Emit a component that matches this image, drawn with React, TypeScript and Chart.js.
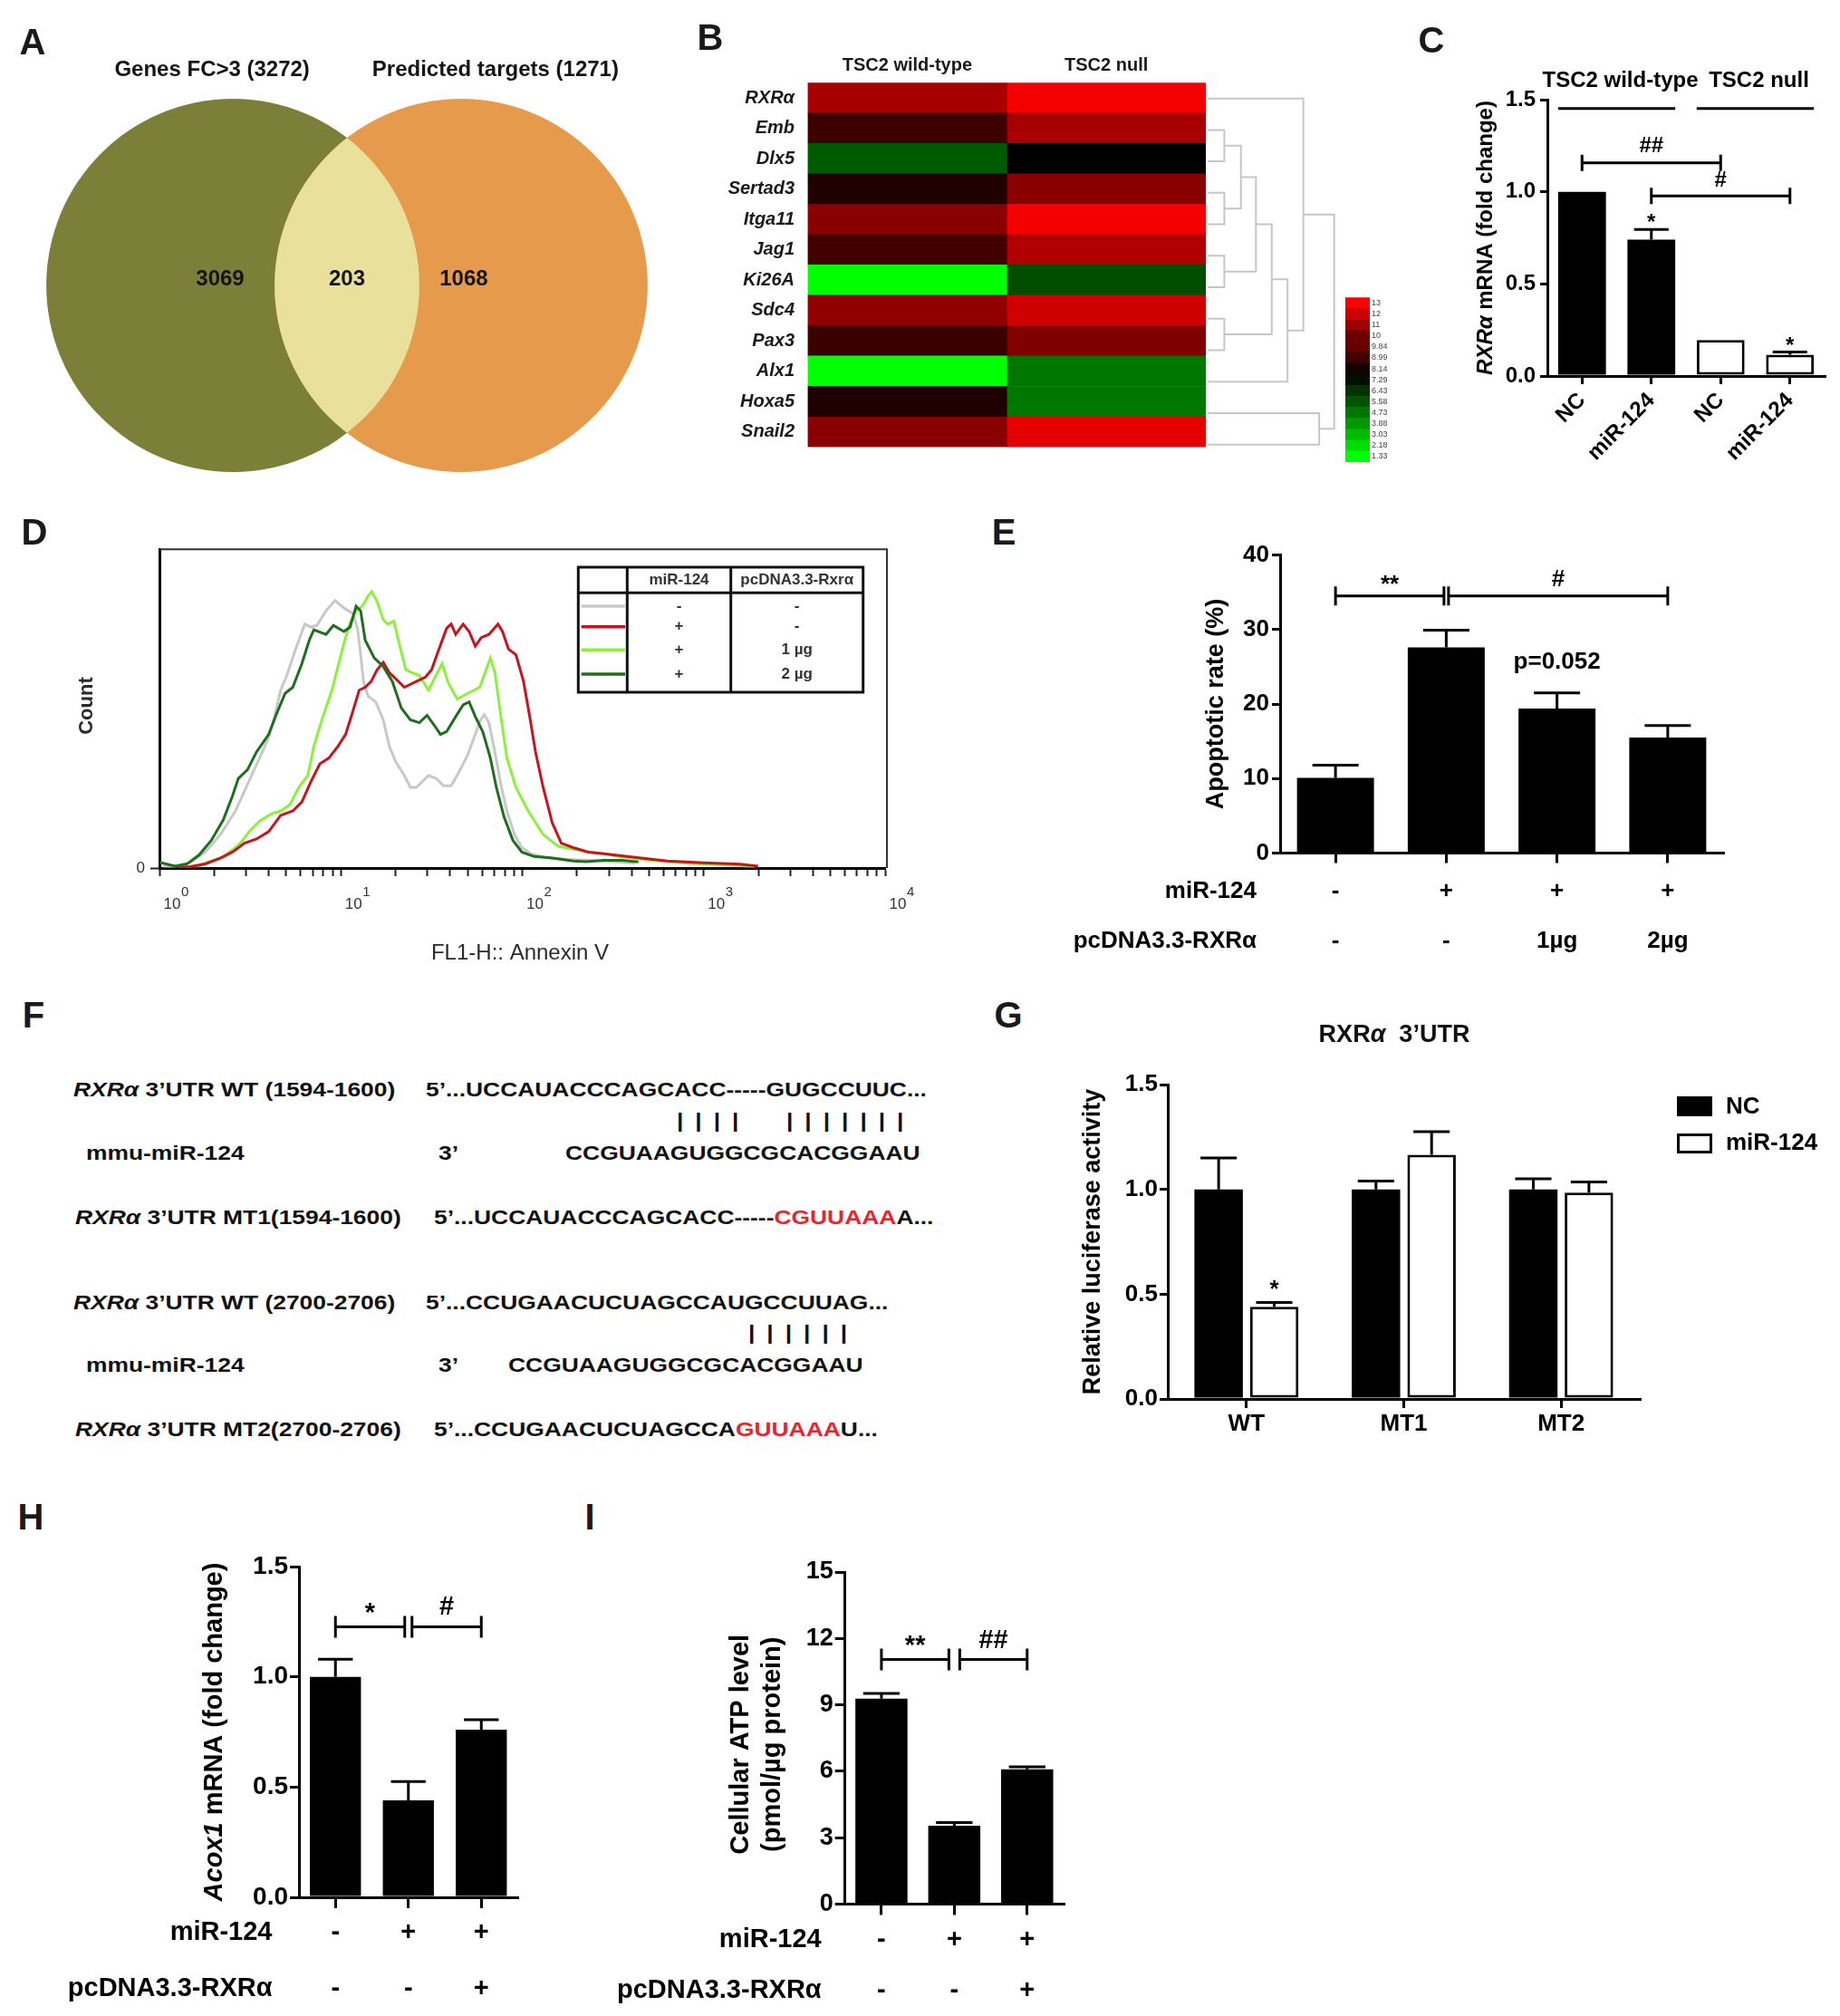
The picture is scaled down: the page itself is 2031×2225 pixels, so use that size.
import React, { useEffect, useRef } from 'react';
import { Chart, registerables } from 'chart.js';

Chart.register(...registerables);

const FONT = '"Liberation Sans", Arial, Helvetica, sans-serif';

/* ================= DATA ================= */
// A: Venn
const vennSetLabels = ['Genes FC>3 (3272)', 'Predicted targets (1271)'];
const vennCounts = [3069, 203, 1068];

// B: heatmap
const heatGenes = ['RXRα', 'Emb', 'Dlx5', 'Sertad3', 'Itga11', 'Jag1', 'Ki26A', 'Sdc4', 'Pax3', 'Alx1', 'Hoxa5', 'Snail2'];
const heatConditions = ['TSC2 wild-type', 'TSC2 null'];
const heatWT = [11.2, 8.95, 5.45, 8.36, 10.57, 9.07, 1.33, 10.7, 8.9, 1.33, 8.32, 10.57];
const heatNull = [12.8, 11.2, 7.7, 10.57, 12.8, 11.36, 5.78, 12.0, 10.36, 4.7, 4.7, 12.44];
const heatScaleLabels = ['13', '12', '11', '10', '9.84', '8.99', '8.14', '7.29', '6.43', '5.58', '4.73', '3.88', '3.03', '2.18', '1.33'];
// linkage: [childA, childB, height]; new cluster ids start at 12
const dendroMerges = [
  [1, 2, 1.05], [3, 4, 1.05], [12, 13, 2.1], [5, 6, 1.05], [14, 15, 3.05], [7, 8, 1.05],
  [16, 17, 4.05], [18, 9, 5.05], [0, 19, 6.05], [10, 11, 7.05], [20, 21, 8.0],
];

// C
const cLabels = ['NC', 'miR-124', 'NC', 'miR-124'];
const cGroups = ['TSC2 wild-type', 'TSC2 null'];
const cValues = [1.0, 0.74, 0.195, 0.115];
const cErrors = [0, 0.055, 0, 0.015];
const cBrackets = [
  { a: 0, b: 2, y: 1.157, label: '##', ly: 1.245 },
  { a: 1, b: 3, y: 0.978, label: '#', ly: 1.059 },
];
const cNotes = [{ ds: 0, i: 1, v: 0.856, t: '*' }, { ds: 0, i: 3, v: 0.187, t: '*' }];

// D: flow histogram (x as log10 of FL1-H, y as count % of max)
const dGrayLog = [0.02, 0.086, 0.17, 0.253, 0.336, 0.419, 0.485, 0.552, 0.602, 0.635, 0.668, 0.702, 0.751, 0.801, 0.835, 0.868, 0.918, 0.968, 1.017, 1.067, 1.092, 1.109, 1.125, 1.15, 1.192, 1.234, 1.267, 1.3, 1.35, 1.383, 1.416, 1.483, 1.525, 1.566, 1.608, 1.649, 1.699, 1.741, 1.766, 1.791, 1.816, 1.849, 1.882, 1.915, 1.957, 1.998, 2.048, 2.131, 2.248, 2.35, 2.5, 2.62];
const dGrayCount = [0.6, 0.6, 1.8, 5.0, 10.5, 17.9, 26.2, 34.5, 41, 47.5, 55.8, 60.4, 68.7, 76.5, 75.6, 76.1, 80.7, 83.9, 81.6, 79.8, 75.2, 66.9, 58.5, 53.9, 52.1, 46.5, 38.2, 33.6, 29.0, 25.3, 25.3, 29.0, 28.1, 25.8, 25.8, 29.9, 35.5, 41.9, 46.1, 48.1, 45.6, 36.4, 26.2, 17.9, 10.5, 6.4, 4.5, 3.3, 2.7, 2.5, 2.0, 1.5];
const dRedLog = [0.1, 0.17, 0.253, 0.336, 0.402, 0.469, 0.535, 0.602, 0.668, 0.735, 0.785, 0.835, 0.884, 0.934, 0.984, 1.026, 1.067, 1.101, 1.134, 1.167, 1.2, 1.234, 1.267, 1.3, 1.35, 1.416, 1.466, 1.5, 1.541, 1.583, 1.608, 1.633, 1.674, 1.707, 1.741, 1.774, 1.816, 1.866, 1.891, 1.924, 1.965, 2.007, 2.041, 2.073, 2.115, 2.165, 2.215, 2.281, 2.364, 2.45, 2.6, 2.8, 3.0, 3.2, 3.3];
const dRedCount = [0.3, 0.4, 1.3, 3.1, 5.0, 7.8, 9.1, 11.4, 16.5, 17.9, 20.7, 27.1, 32.7, 34.5, 38.2, 41.9, 49.3, 55.8, 56.7, 58.5, 62.2, 64.5, 61.3, 59.5, 56.7, 58.5, 59.9, 62.2, 68.7, 75.2, 76.5, 73.3, 76.5, 74.2, 69.6, 72.3, 73.3, 76.5, 74.2, 68.7, 66.9, 58.5, 47.5, 36.4, 25.3, 14.2, 7.8, 6.4, 5.0, 4.5, 3.5, 2.2, 1.6, 1.2, 0.6];
const dLightLog = [0.2, 0.35, 0.42, 0.452, 0.494, 0.552, 0.618, 0.668, 0.718, 0.768, 0.818, 0.851, 0.901, 0.951, 0.984, 1.017, 1.051, 1.084, 1.117, 1.15, 1.17, 1.2, 1.234, 1.258, 1.292, 1.325, 1.358, 1.392, 1.433, 1.483, 1.516, 1.558, 1.591, 1.641, 1.699, 1.766, 1.824, 1.849, 1.882, 1.915, 1.965, 2.032, 2.115, 2.198, 2.281, 2.381, 2.45, 2.55, 2.7, 2.9, 3.1, 3.28];
const dLightCount = [0.5, 3.5, 6.5, 8.2, 11.4, 14.7, 17.0, 17.9, 19.8, 25.3, 29.0, 38.2, 47.5, 55.8, 63.2, 70.5, 77.0, 80.7, 82.1, 85.3, 86.7, 83.5, 77.9, 76.5, 77.4, 69.6, 62.2, 61.3, 60.4, 55.8, 59.5, 64.1, 58.2, 53.0, 54.8, 56.7, 65.9, 61.3, 47.5, 34.5, 25.3, 17.9, 10.5, 6.8, 5.9, 5.0, 4.5, 3.5, 2.5, 1.5, 1.0, 0.5];
const dDarkLog = [0, 0.086, 0.153, 0.219, 0.286, 0.352, 0.402, 0.435, 0.485, 0.535, 0.602, 0.652, 0.693, 0.735, 0.785, 0.826, 0.851, 0.918, 0.959, 1.017, 1.051, 1.084, 1.109, 1.134, 1.184, 1.234, 1.284, 1.333, 1.383, 1.433, 1.475, 1.516, 1.549, 1.583, 1.633, 1.674, 1.707, 1.741, 1.782, 1.824, 1.857, 1.899, 1.948, 1.998, 2.065, 2.165, 2.281, 2.35, 2.45, 2.55, 2.64];
const dDarkCount = [1.8, 0.6, 1.3, 4.1, 8.7, 15.1, 22.5, 28.1, 30.8, 36.4, 41.9, 49.3, 54.8, 56.7, 64.1, 71.5, 74.7, 73.3, 76.1, 74.2, 75.6, 82.1, 80.7, 71.5, 65.9, 63.2, 58.5, 50.2, 46.5, 45.6, 47.9, 44.7, 41.9, 42.8, 47.5, 51.2, 52.1, 47.5, 42.8, 34.5, 25.3, 16.1, 8.7, 5.0, 3.6, 3.1, 2.2, 2.0, 2.4, 2.4, 1.9];
const dLegendMir = ['-', '+', '+', '+'];
const dLegendPc = ['-', '-', '1 µg', '2 µg'];
const dTickExp = [0, 1, 2, 3, 4];

// E
const eMir = ['-', '+', '+', '+'];
const ePc = ['-', '-', '1µg', '2µg'];
const eValues = [10.1, 27.6, 19.4, 15.5];
const eErrors = [1.7, 2.3, 2.1, 1.6];
const eBrackets = [
  { a: 0, b: 1, y: 34.5, label: '**', ly: 36.7 },
  { a: 1, b: 3, y: 34.5, label: '#', ly: 36.7 },
];
const eNotes = [{ ds: 0, i: 2, v: 25.6, t: 'p=0.052' }];

// G
const gCats = ['WT', 'MT1', 'MT2'];
const gSeries = ['NC', 'miR-124'];
const gNC = [1.0, 1.0, 1.0];
const gNCErr = [0.15, 0.04, 0.05];
const gMir = [0.44, 1.165, 0.985];
const gMirErr = [0.02, 0.11, 0.05];
const gNotes = [{ ds: 1, i: 0, v: 0.545, t: '*' }];

// H
const hMir = ['-', '+', '+'];
const hPc = ['-', '-', '+'];
const hValues = [1.0, 0.44, 0.76];
const hErrors = [0.08, 0.085, 0.045];
const hBrackets = [
  { a: 0, b: 1, y: 1.227, label: '*', ly: 1.314 },
  { a: 1, b: 2, y: 1.227, label: '#', ly: 1.314 },
];

// I
const iMir = ['-', '+', '+'];
const iPc = ['-', '-', '+'];
const iValues = [9.28, 3.54, 6.09];
const iErrors = [0.24, 0.14, 0.11];
const iBrackets = [
  { a: 0, b: 1, y: 11.05, label: '**', ly: 11.9 },
  { a: 1, b: 2, y: 11.05, label: '##', ly: 11.9 },
];

/* ================= HELPERS ================= */
function heatColor(v: number) {
  const mid = 7.7;
  if (v >= mid) {
    const t = Math.min(1, (v - mid) / (13 - mid));
    return `rgb(${Math.round(255 * t)},0,0)`;
  }
  const t = Math.min(1, (mid - v) / (mid - 1.33));
  return `rgb(0,${Math.round(255 * t)},0)`;
}

function drawRich(ctx: any, parts: any[], cx: number, cy: number, size: number, rot: number, color = '#000', weight = 'bold') {
  ctx.save();
  ctx.translate(cx, cy);
  ctx.rotate(rot);
  const fonts = parts.map((p: any) => `${p[1] ? 'italic ' : ''}${weight} ${size}px ${FONT}`);
  let total = 0;
  const ws = parts.map((p: any, i: number) => {
    ctx.font = fonts[i];
    const w = ctx.measureText(p[0]).width;
    total += w;
    return w;
  });
  let x = -total / 2;
  ctx.textBaseline = 'middle';
  ctx.textAlign = 'left';
  ctx.fillStyle = color;
  parts.forEach((p: any, i: number) => {
    ctx.font = fonts[i];
    ctx.fillText(p[0], x, 0);
    x += ws[i];
  });
  ctx.restore();
}

function starShift(t: string, size: number) {
  return /^\*+$/.test(t) ? size * 0.22 : 0;
}

function frameOf(box: any, area: any) {
  return {
    padding: { left: 0, top: area.t - box.y, right: box.x + box.w - area.r, bottom: 0 },
    yW: area.l - box.x,
    xH: box.y + box.h - area.b,
  };
}

function errorBarPlugin(errs: number[][], capFrac: number, lw = 3) {
  return {
    id: 'errbars',
    afterDatasetsDraw(chart: any) {
      const ctx = chart.ctx;
      const y = chart.scales.y;
      chart.data.datasets.forEach((ds: any, di: number) => {
        const meta = chart.getDatasetMeta(di);
        meta.data.forEach((bar: any, i: number) => {
          const e = errs[di] ? errs[di][i] : 0;
          if (!e) return;
          const v = ds.data[i];
          const yTop = y.getPixelForValue(v + e);
          const yBar = y.getPixelForValue(v);
          const w = bar.width * capFrac;
          ctx.save();
          ctx.strokeStyle = '#000';
          ctx.lineWidth = lw;
          ctx.beginPath();
          ctx.moveTo(bar.x, yBar);
          ctx.lineTo(bar.x, yTop);
          ctx.moveTo(bar.x - w / 2, yTop);
          ctx.lineTo(bar.x + w / 2, yTop);
          ctx.stroke();
          ctx.restore();
        });
      });
    },
  };
}

function bracketPlugin(list: any[], cap: number, size: number, gap: number) {
  return {
    id: 'brackets',
    afterDraw(chart: any) {
      const { ctx } = chart;
      const x = chart.scales.x;
      const y = chart.scales.y;
      ctx.save();
      ctx.strokeStyle = '#000';
      ctx.fillStyle = '#000';
      ctx.lineWidth = 3;
      ctx.font = `bold ${size}px ${FONT}`;
      ctx.textAlign = 'center';
      ctx.textBaseline = 'middle';
      list.forEach((b: any) => {
        const startShared = list.some((o: any) => o !== b && o.b === b.a);
        const endShared = list.some((o: any) => o !== b && o.a === b.b);
        const xa = x.getPixelForValue(b.a) + (startShared ? gap / 2 : 0);
        const xb = x.getPixelForValue(b.b) - (endShared ? gap / 2 : 0);
        const yy = y.getPixelForValue(b.y);
        ctx.beginPath();
        ctx.moveTo(xa, yy);
        ctx.lineTo(xb, yy);
        ctx.moveTo(xa, yy - cap);
        ctx.lineTo(xa, yy + cap);
        ctx.moveTo(xb, yy - cap);
        ctx.lineTo(xb, yy + cap);
        ctx.stroke();
        ctx.fillText(b.label, (xa + xb) / 2, y.getPixelForValue(b.ly) + starShift(b.label, size));
      });
      ctx.restore();
    },
  };
}

function notesPlugin(notes: any[], size: number) {
  return {
    id: 'notes',
    afterDraw(chart: any) {
      const { ctx } = chart;
      const y = chart.scales.y;
      ctx.save();
      ctx.fillStyle = '#000';
      ctx.font = `bold ${size}px ${FONT}`;
      ctx.textAlign = 'center';
      ctx.textBaseline = 'middle';
      notes.forEach((n: any) => {
        const el = chart.getDatasetMeta(n.ds).data[n.i];
        ctx.fillText(n.t, el.x, y.getPixelForValue(n.v) + starShift(n.t, size));
      });
      ctx.restore();
    },
  };
}

function rowsPlugin(rows: any[], nameRight: number, size: number) {
  return {
    id: 'rows',
    afterDraw(chart: any) {
      const { ctx } = chart;
      const x = chart.scales.x;
      const b = chart.chartArea.bottom;
      ctx.save();
      ctx.fillStyle = '#000';
      ctx.font = `bold ${size}px ${FONT}`;
      ctx.textBaseline = 'middle';
      rows.forEach((r: any) => {
        ctx.textAlign = 'right';
        ctx.fillText(r.name, nameRight, b + r.dy);
        ctx.textAlign = 'center';
        r.vals.forEach((v: string, i: number) => ctx.fillText(v, x.getPixelForValue(i), b + r.dy));
      });
      ctx.restore();
    },
  };
}

function yTitlePlugin(lines: any[], xs: number[], size: number, dyc = 0) {
  return {
    id: 'ytitle',
    afterDraw(chart: any) {
      const ca = chart.chartArea;
      const cy = (ca.top + ca.bottom) / 2 + dyc;
      lines.forEach((parts: any, k: number) => drawRich(chart.ctx, parts, xs[k], cy, size, -Math.PI / 2));
    },
  };
}

function barConfig(s: any) {
  const f = frameOf(s.box, s.area);
  const tickFont = { family: FONT, size: s.font, weight: 'bold' };
  return {
    type: 'bar',
    data: {
      labels: s.labels,
      datasets: s.series.map((se: any) => ({
        data: se.values,
        backgroundColor: se.fill,
        borderColor: '#000',
        borderWidth: se.bw ?? 0,
        borderSkipped: false,
        barPercentage: s.barPct,
        categoryPercentage: s.catPct,
      })),
    },
    options: {
      responsive: false,
      animation: false,
      events: [],
      layout: { padding: f.padding },
      plugins: { legend: { display: false }, tooltip: { enabled: false } },
      scales: {
        x: {
          offset: true,
          grid: { display: true, drawOnChartArea: false, offset: false, drawTicks: true, tickLength: s.tickLenX, tickWidth: 3, tickColor: '#000', color: '#000', lineWidth: 3 },
          border: { display: true, color: '#000', width: 3 },
          ticks: { display: s.showX, color: '#000', font: tickFont, padding: s.padX, autoSkip: false, maxRotation: s.rot || 0, minRotation: s.rot || 0 },
          afterFit: (sc: any) => { sc.height = f.xH; },
        },
        y: {
          min: 0,
          max: s.yMax,
          grid: { display: true, drawOnChartArea: false, drawTicks: true, tickLength: s.tickLenY, tickWidth: 3, tickColor: '#000', color: '#000', lineWidth: 3 },
          border: { display: true, color: '#000', width: 3 },
          ticks: { stepSize: s.yStep, color: '#000', font: tickFont, padding: s.padY, callback: (v: any) => Number(v).toFixed(s.yDec) },
          afterFit: (sc: any) => { sc.width = f.yW; },
        },
      },
    },
    plugins: [errorBarPlugin(s.series.map((se: any) => se.errors), s.capFrac), ...s.extra],
  };
}

/* ================= LAYOUT (page px) ================= */
const A_BOX = { x: 0, y: 0, w: 760, h: 640 };
const A_AREA = { l: 33, t: 6, r: 733, b: 624 };
const HEAT_BOX = { x: 740, y: 40, w: 595, h: 480 };
const HEAT_AREA = { l: 891.5, t: 91.3, r: 1331, b: 508 };
const DEN_BOX = { x: 1331, y: 80, w: 160, h: 440 };
const DEN_AREA = { l: 1331, t: 91.3, r: 1480, b: 508 };
const CB_BOX = { x: 1480, y: 320, w: 70, h: 200 };
const CB_AREA = { l: 1485, t: 328.3, r: 1512, b: 510 };
const C_BOX = { x: 1600, y: 60, w: 431, h: 470 };
const C_AREA = { l: 1708, t: 110, r: 2014, b: 415 };
const D_BOX = { x: 0, y: 590, w: 1010, h: 490 };
const D_AREA = { l: 176, t: 598, r: 977, b: 958 };
const E_BOX = { x: 1140, y: 560, w: 800, h: 510 };
const E_AREA = { l: 1413, t: 612.5, r: 1902, b: 941.5 };
const G_BOX = { x: 1160, y: 1110, w: 871, h: 500 };
const G_AREA = { l: 1289, t: 1197, r: 1810, b: 1544 };
const H_BOX = { x: 0, y: 1705, w: 620, h: 520 };
const H_AREA = { l: 330, t: 1729, r: 571.5, b: 2094 };
const I_BOX = { x: 630, y: 1705, w: 590, h: 520 };
const I_AREA = { l: 932.7, t: 1735, r: 1174, b: 2101.5 };

function pad(box: any, area: any) {
  return { left: area.l - box.x, top: area.t - box.y, right: box.x + box.w - area.r, bottom: box.y + box.h - area.b };
}

/* ================= PANEL CONFIGS ================= */
const VENN_D = 0.612;
const makeA = () => ({
  type: 'scatter',
  data: { datasets: [] },
  options: {
    responsive: false,
    animation: false,
    events: [],
    layout: { padding: pad(A_BOX, A_AREA) },
    plugins: { legend: { display: false }, tooltip: { enabled: false } },
    scales: {
      x: { type: 'linear', min: -1.7, max: 1.7, display: false },
      y: { type: 'linear', min: -1.5, max: 1.5, display: false },
    },
  },
  plugins: [{
    id: 'venn',
    afterDraw(chart: any) {
      const { ctx } = chart;
      const x = chart.scales.x;
      const y = chart.scales.y;
      const r = x.getPixelForValue(1) - x.getPixelForValue(0);
      const cy = y.getPixelForValue(0);
      const c1 = x.getPixelForValue(-VENN_D);
      const c2 = x.getPixelForValue(VENN_D);
      ctx.save();
      ctx.fillStyle = '#7b7f37';
      ctx.beginPath(); ctx.arc(c1, cy, r, 0, Math.PI * 2); ctx.fill();
      ctx.fillStyle = '#e59b4b';
      ctx.beginPath(); ctx.arc(c2, cy, r, 0, Math.PI * 2); ctx.fill();
      ctx.save();
      ctx.beginPath(); ctx.arc(c1, cy, r, 0, Math.PI * 2); ctx.clip();
      ctx.fillStyle = '#e8e09b';
      ctx.beginPath(); ctx.arc(c2, cy, r, 0, Math.PI * 2); ctx.fill();
      ctx.restore();
      ctx.fillStyle = '#151515';
      ctx.font = `bold 24px ${FONT}`;
      ctx.textAlign = 'center';
      ctx.textBaseline = 'middle';
      const ty = y.getPixelForValue(1.155);
      ctx.fillText(vennSetLabels[0], x.getPixelForValue(-0.723), ty);
      ctx.fillText(vennSetLabels[1], x.getPixelForValue(0.796), ty);
      const ny = y.getPixelForValue(0.03);
      const nx = [-0.68, 0, 0.626];
      vennCounts.forEach((c, i) => ctx.fillText(String(c), x.getPixelForValue(nx[i]), ny));
      ctx.restore();
    },
  }],
});

const makeHeat = () => {
  const f = frameOf(HEAT_BOX, HEAT_AREA);
  return {
    type: 'bar',
    data: {
      labels: heatGenes,
      datasets: [
        { data: heatGenes.map(() => 1), backgroundColor: heatWT.map(heatColor), borderWidth: 0, barPercentage: 1, categoryPercentage: 1 },
        { data: heatGenes.map(() => 1), backgroundColor: heatNull.map(heatColor), borderWidth: 0, barPercentage: 1, categoryPercentage: 1 },
      ],
    },
    options: {
      indexAxis: 'y',
      responsive: false,
      animation: false,
      events: [],
      layout: { padding: { left: 0, top: 0, right: HEAT_BOX.x + HEAT_BOX.w - HEAT_AREA.r, bottom: HEAT_BOX.y + HEAT_BOX.h - HEAT_AREA.b } },
      plugins: { legend: { display: false }, tooltip: { enabled: false } },
      scales: {
        x: {
          type: 'linear', position: 'top', stacked: true, min: 0, max: 2,
          grid: { display: false, drawTicks: false }, border: { display: false },
          afterBuildTicks: (sc: any) => { sc.ticks = [{ value: 0.5 }, { value: 1.5 }]; },
          ticks: { callback: (v: any) => heatConditions[Math.floor(v)], font: { family: FONT, size: 20, weight: 'bold' }, color: '#1a1a1a', padding: 6.6, maxRotation: 0, autoSkip: false },
          afterFit: (sc: any) => { sc.height = HEAT_AREA.t - HEAT_BOX.y; },
        },
        y: {
          stacked: true,
          grid: { display: false, drawTicks: false }, border: { display: false },
          ticks: { font: { family: FONT, size: 20, weight: 'bold', style: 'italic' }, color: '#1a1a1a', padding: 14.5, autoSkip: false },
          afterFit: (sc: any) => { sc.width = f.yW; },
        },
      },
    },
  };
};

function dendroSegments() {
  const pos: number[] = heatGenes.map((_, i) => i);
  const hgt: number[] = heatGenes.map(() => 0);
  const segs: any[] = [];
  dendroMerges.forEach(([a, b, h]) => {
    segs.push([{ x: hgt[a], y: pos[a] }, { x: h, y: pos[a] }, { x: h, y: pos[b] }, { x: hgt[b], y: pos[b] }]);
    pos.push((pos[a] + pos[b]) / 2);
    hgt.push(h);
  });
  return segs;
}

const makeDendro = () => ({
  type: 'scatter',
  data: {
    datasets: dendroSegments().map((seg) => ({ data: seg, showLine: true, borderColor: '#c6c6c6', borderWidth: 2, pointRadius: 0, tension: 0 })),
  },
  options: {
    responsive: false, animation: false, events: [],
    layout: { padding: pad(DEN_BOX, DEN_AREA) },
    plugins: { legend: { display: false }, tooltip: { enabled: false } },
    scales: {
      x: { type: 'linear', min: -0.12, max: 8.42, display: false },
      y: { type: 'linear', min: -0.5, max: 11.5, reverse: true, display: false },
    },
  },
});

const makeColorbar = () => ({
  type: 'bar',
  data: {
    labels: [''],
    datasets: heatScaleLabels.slice().reverse().map((l) => ({ data: [1], backgroundColor: heatColor(parseFloat(l)), borderWidth: 0, barPercentage: 1, categoryPercentage: 1 })),
  },
  options: {
    responsive: false, animation: false, events: [],
    layout: { padding: { left: CB_AREA.l - CB_BOX.x, top: CB_AREA.t - CB_BOX.y, right: 0, bottom: CB_BOX.y + CB_BOX.h - CB_AREA.b } },
    plugins: { legend: { display: false }, tooltip: { enabled: false } },
    scales: {
      x: { stacked: true, display: false },
      y: {
        stacked: true, position: 'right', min: 0, max: 15,
        grid: { display: false, drawTicks: false }, border: { display: false },
        afterBuildTicks: (sc: any) => { sc.ticks = heatScaleLabels.map((_, i) => ({ value: 14.5 - i })); },
        ticks: { callback: (_v: any, i: number) => heatScaleLabels[i], font: { family: FONT, size: 9 }, color: '#444', padding: 2, autoSkip: false },
        afterFit: (sc: any) => { sc.width = CB_BOX.x + CB_BOX.w - CB_AREA.r; },
      },
    },
  },
});

const makeC = () => barConfig({
  box: C_BOX, area: C_AREA, labels: cLabels,
  series: [{ values: cValues, errors: cErrors, fill: ['#000', '#000', '#fff', '#fff'], bw: [0, 0, 3, 3] }],
  yMax: 1.5, yStep: 0.5, yDec: 1, font: 24, tickLenX: 9, tickLenY: 8, padX: 4, padY: 5,
  catPct: 1, barPct: 0.69, showX: true, rot: 45, capFrac: 0.72,
  extra: [
    bracketPlugin(cBrackets, 9, 24, 0),
    notesPlugin(cNotes, 24),
    {
      id: 'groups',
      afterDraw(chart: any) {
        const { ctx } = chart;
        const y = chart.scales.y;
        const meta = chart.getDatasetMeta(0);
        ctx.save();
        ctx.strokeStyle = '#000'; ctx.fillStyle = '#000'; ctx.lineWidth = 3;
        ctx.font = `bold 24px ${FONT}`; ctx.textAlign = 'center'; ctx.textBaseline = 'middle';
        cGroups.forEach((g, k) => {
          const a = meta.data[k * 2];
          const b = meta.data[k * 2 + 1];
          const xa = a.x - a.width / 2;
          const xb = b.x + b.width / 2;
          const yy = y.getPixelForValue(1.452);
          ctx.beginPath(); ctx.moveTo(xa, yy); ctx.lineTo(xb, yy); ctx.stroke();
          ctx.fillText(g, (xa + xb) / 2 + 4, y.getPixelForValue(1.6));
        });
        ctx.restore();
      },
    },
    yTitlePlugin([[['RXRα', true], [' mRNA (fold change)', false]]], [1640 - C_BOX.x], 24),
  ],
});

const makeD = () => {
  const f = frameOf(D_BOX, D_AREA);
  const mk = (lx: number[], ys: number[], color: string) => ({
    data: lx.map((e, i) => ({ x: Math.pow(10, e), y: ys[i] })),
    borderColor: color, borderWidth: 3, pointRadius: 0, fill: false, tension: 0,
  });
  return {
    type: 'line',
    data: {
      datasets: [
        mk(dDarkLog, dDarkCount, '#1e6e1e'),
        mk(dRedLog, dRedCount, '#c8141e'),
        mk(dLightLog, dLightCount, '#8cf03c'),
        mk(dGrayLog, dGrayCount, '#c8c8c8'),
      ],
    },
    options: {
      responsive: false, animation: false, events: [],
      layout: { padding: f.padding },
      plugins: { legend: { display: false }, tooltip: { enabled: false } },
      scales: {
        x: {
          type: 'logarithmic', min: 1, max: 10000,
          afterBuildTicks: (sc: any) => {
            const t: any[] = [];
            for (let p = 0; p < 4; p++) for (let k = 1; k < 10; k++) t.push({ value: k * Math.pow(10, p) });
            t.push({ value: 10000 });
            sc.ticks = t;
          },
          grid: { display: true, drawOnChartArea: false, drawTicks: true, tickLength: 9, tickWidth: 2, tickColor: '#222', color: '#222' },
          border: { display: true, color: '#000', width: 3 },
          ticks: { display: false, autoSkip: false },
          afterFit: (sc: any) => { sc.height = f.xH; },
        },
        y: {
          min: 0, max: 100,
          afterBuildTicks: (sc: any) => { sc.ticks = [{ value: 0 }]; },
          grid: { display: true, drawOnChartArea: false, drawTicks: true, tickLength: 10, tickWidth: 2, tickColor: '#222', color: '#222' },
          border: { display: true, color: '#000', width: 3 },
          ticks: { callback: () => '0', font: { family: FONT, size: 17 }, color: '#333', padding: 6 },
          afterFit: (sc: any) => { sc.width = f.yW; },
        },
      },
    },
    plugins: [{
      id: 'dextra',
      afterDraw(chart: any) {
        const { ctx } = chart;
        const ca = chart.chartArea;
        const x = chart.scales.x;
        const oy = D_BOX.y;
        ctx.save();
        // frame top/right
        ctx.strokeStyle = '#333'; ctx.lineWidth = 2;
        ctx.beginPath(); ctx.moveTo(ca.left, ca.top); ctx.lineTo(ca.right + 2, ca.top); ctx.lineTo(ca.right + 2, ca.bottom); ctx.stroke();
        // tick labels 10^n
        ctx.fillStyle = '#333'; ctx.textAlign = 'left'; ctx.textBaseline = 'alphabetic';
        dTickExp.forEach((p) => {
          const px = x.getPixelForValue(Math.pow(10, p));
          ctx.font = `17px ${FONT}`; ctx.fillText('10', px + 4.5, 1003 - oy);
          ctx.font = `15px ${FONT}`; ctx.fillText(String(p), px + 24, 989 - oy);
        });
        // axis titles
        ctx.textAlign = 'center'; ctx.textBaseline = 'middle';
        ctx.font = `24px ${FONT}`; ctx.fillStyle = '#2a2a2a';
        ctx.fillText('FL1-H:: Annexin V', 574, 1052.7 - oy);
        drawRich(ctx, [['Count', false]], 95.7, 779 - oy, 22, -Math.PI / 2, '#2a2a2a');
        // legend table
        const L = 638.3, R = 952.7, T = 626 - oy, B = 764 - oy, c1 = 692.3, c2 = 806.7, hd = 654.3 - oy;
        ctx.strokeStyle = '#111'; ctx.lineWidth = 3;
        ctx.strokeRect(L, T, R - L, B - T);
        ctx.beginPath();
        ctx.moveTo(c1, T); ctx.lineTo(c1, B);
        ctx.moveTo(c2, T); ctx.lineTo(c2, B);
        ctx.moveTo(L, hd); ctx.lineTo(R, hd);
        ctx.stroke();
        ctx.fillStyle = '#333'; ctx.font = `bold 17px ${FONT}`;
        ctx.fillText('miR-124', (c1 + c2) / 2, 640 - oy);
        ctx.fillText('pcDNA3.3-Rxrα', (c2 + R) / 2, 640 - oy);
        const rowY = [669, 691.7, 717.3, 744];
        const cols = ['#c8c8c8', '#c8141e', '#8cf03c', '#1e6e1e'];
        rowY.forEach((ry, k) => {
          ctx.strokeStyle = cols[k]; ctx.lineWidth = 3.5;
          ctx.beginPath(); ctx.moveTo(641.7, ry - oy); ctx.lineTo(690, ry - oy); ctx.stroke();
          ctx.fillText(dLegendMir[k], (c1 + c2) / 2, ry - oy);
          ctx.fillText(dLegendPc[k], (c2 + R) / 2, ry - oy);
        });
        ctx.restore();
      },
    }],
  };
};

const makeE = () => barConfig({
  box: E_BOX, area: E_AREA, labels: eMir.map((_, i) => String(i)),
  series: [{ values: eValues, errors: eErrors, fill: '#000', bw: 0 }],
  yMax: 40, yStep: 10, yDec: 0, font: 26, tickLenX: 11, tickLenY: 9, padX: 3, padY: 3,
  catPct: 1, barPct: 0.695, showX: false, capFrac: 0.6,
  extra: [
    bracketPlugin(eBrackets, 10.5, 26, 5),
    notesPlugin(eNotes, 26),
    rowsPlugin([{ name: 'miR-124', vals: eMir, dy: 42.5 }, { name: 'pcDNA3.3-RXRα', vals: ePc, dy: 97 }], 1387 - E_BOX.x, 26),
    yTitlePlugin([[['Apoptotic rate (%)', false]]], [1343 - E_BOX.x], 27),
  ],
});

const makeG = () => barConfig({
  box: G_BOX, area: G_AREA, labels: gCats,
  series: [
    { values: gNC, errors: gNCErr, fill: '#000', bw: 0 },
    { values: gMir, errors: gMirErr, fill: '#fff', bw: 3 },
  ],
  yMax: 1.5, yStep: 0.5, yDec: 1, font: 26, tickLenX: 10, tickLenY: 9, padX: 2, padY: 2,
  catPct: 0.707, barPct: 0.871, showX: true, capFrac: 0.75,
  extra: [
    notesPlugin(gNotes, 26),
    yTitlePlugin([[['Relative luciferase activity', false]]], [1207 - G_BOX.x], 27),
    {
      id: 'glegend',
      afterDraw(chart: any) {
        const { ctx } = chart;
        const ox = G_BOX.x, oy = G_BOX.y;
        ctx.save();
        ctx.fillStyle = '#000';
        ctx.fillRect(1851 - ox, 1210 - oy, 39, 22);
        ctx.strokeStyle = '#000'; ctx.lineWidth = 3;
        ctx.strokeRect(1852.5 - ox, 1252.5 - oy, 36, 19);
        ctx.font = `bold 26px ${FONT}`; ctx.textAlign = 'left'; ctx.textBaseline = 'middle';
        ctx.fillText(gSeries[0], 1905 - ox, 1221.5 - oy);
        ctx.fillText(gSeries[1], 1905 - ox, 1262 - oy);
        drawRich(ctx, [['RXR', false], ['α', true], ['  3’UTR', false]], 1539 - ox, 1143 - oy, 27, 0, '#111');
        ctx.restore();
      },
    },
  ],
});

const makeH = () => barConfig({
  box: H_BOX, area: H_AREA, labels: hMir.map((_, i) => String(i)),
  series: [{ values: hValues, errors: hErrors, fill: '#000', bw: 0 }],
  yMax: 1.5, yStep: 0.5, yDec: 1, font: 28, tickLenX: 12, tickLenY: 10, padX: 3, padY: 2,
  catPct: 1, barPct: 0.70, showX: false, capFrac: 0.68,
  extra: [
    bracketPlugin(hBrackets, 12, 29, 8),
    rowsPlugin([{ name: 'miR-124', vals: hMir, dy: 39 }, { name: 'pcDNA3.3-RXRα', vals: hPc, dy: 101 }], 300.5 - H_BOX.x, 29),
    yTitlePlugin([[['Acox1', true], [' mRNA (fold change)', false]]], [237 - H_BOX.x], 29),
  ],
});

const makeI = () => barConfig({
  box: I_BOX, area: I_AREA, labels: iMir.map((_, i) => String(i)),
  series: [{ values: iValues, errors: iErrors, fill: '#000', bw: 0 }],
  yMax: 15, yStep: 3, yDec: 0, font: 27, tickLenX: 12, tickLenY: 11, padX: 3, padY: 2,
  catPct: 1, barPct: 0.715, showX: false, capFrac: 0.7,
  extra: [
    bracketPlugin(iBrackets, 12, 29, 12),
    rowsPlugin([{ name: 'miR-124', vals: iMir, dy: 39.3 }, { name: 'pcDNA3.3-RXRα', vals: iPc, dy: 95.3 }], 906.7 - I_BOX.x, 29),
    yTitlePlugin([[['Cellular ATP level', false]], [['(pmol/µg protein)', false]]], [817.7 - I_BOX.x, 853.3 - I_BOX.x], 29, 7),
  ],
});

/* ================= COMPONENTS ================= */
function ChartCanvas({ box, make }: any) {
  const ref = useRef<HTMLCanvasElement | null>(null);
  useEffect(() => {
    const chart = new Chart(ref.current as any, make());
    return () => chart.destroy();
  }, []);
  return (
    <canvas
      ref={ref}
      width={box.w}
      height={box.h}
      style={{ position: 'absolute', left: box.x, top: box.y, width: box.w, height: box.h }}
    />
  );
}

const panelLetters: any[] = [
  ['A', 36, 45], ['B', 784, 40], ['C', 1580, 43], ['D', 38, 586], ['E', 1108, 586],
  ['F', 37, 1119], ['G', 1113, 1119], ['H', 34, 1673], ['I', 651, 1673],
];

function FText({ x, cy, parts, ls = 0, weight = 700 }: any) {
  return (
    <div
      style={{
        position: 'absolute', left: x, top: cy - 14, height: 28, lineHeight: '28px', fontSize: 22,
        fontWeight: weight, fontFamily: FONT, whiteSpace: 'pre', transform: 'scaleX(1.2)',
        transformOrigin: '0 50%', letterSpacing: ls, color: '#111',
      }}
    >
      {parts.map((p: any, k: number) => (
        <span key={k} style={{ fontStyle: p[1] === 'i' ? 'italic' : 'normal', color: p[1] === 'r' ? '#e3262f' : undefined }}>{p[0]}</span>
      ))}
    </div>
  );
}

function PanelF() {
  const items: any[] = [
    { x: 80.7, cy: 1203.3, parts: [['RXRα', 'i'], [' 3’UTR WT (1594-1600)', '']] },
    { x: 470, cy: 1203.3, parts: [['5’...UCCAUACCCAGCACC-----GUGCCUUC...', '']] },
    { x: 747, cy: 1237, parts: [['||||', '']], ls: 10.8 },
    { x: 868, cy: 1237, parts: [['|||||||', '']], ls: 10.8 },
    { x: 94.7, cy: 1272.7, parts: [['mmu-miR-124', '']] },
    { x: 484, cy: 1272.7, parts: [['3’', '']] },
    { x: 624, cy: 1272.7, parts: [['CCGUAAGUGGCGCACGGAAU', '']] },
    { x: 82.8, cy: 1344, parts: [['RXRα', 'i'], [' 3’UTR MT1(1594-1600)', '']] },
    { x: 479, cy: 1344, parts: [['5’...UCCAUACCCAGCACC-----', ''], ['CGUUAAA', 'r'], ['A...', '']] },
    { x: 80.7, cy: 1438, parts: [['RXRα', 'i'], [' 3’UTR WT (2700-2706)', '']] },
    { x: 470, cy: 1438, parts: [['5’...CCUGAACUCUAGCCAUGCCUUAG...', '']] },
    { x: 826, cy: 1471, parts: [['||||||', '']], ls: 10.8 },
    { x: 94.7, cy: 1506.7, parts: [['mmu-miR-124', '']] },
    { x: 484, cy: 1506.7, parts: [['3’', '']] },
    { x: 561, cy: 1506.7, parts: [['CCGUAAGUGGCGCACGGAAU', '']] },
    { x: 82.8, cy: 1578, parts: [['RXRα', 'i'], [' 3’UTR MT2(2700-2706)', '']] },
    { x: 479, cy: 1578, parts: [['5’...CCUGAACUCUAGCCA', ''], ['GUUAAA', 'r'], ['U...', '']] },
  ];
  return <>{items.map((it, k) => <FText key={k} {...it} />)}</>;
}

export default function App() {
  return (
    <div style={{ position: 'absolute', left: 0, top: 0, width: 2031, height: 2225, background: '#fff', overflow: 'hidden', fontFamily: FONT }}>
      <ChartCanvas box={A_BOX} make={makeA} />
      <ChartCanvas box={HEAT_BOX} make={makeHeat} />
      <ChartCanvas box={DEN_BOX} make={makeDendro} />
      <ChartCanvas box={CB_BOX} make={makeColorbar} />
      <ChartCanvas box={C_BOX} make={makeC} />
      <ChartCanvas box={D_BOX} make={makeD} />
      <ChartCanvas box={E_BOX} make={makeE} />
      <ChartCanvas box={G_BOX} make={makeG} />
      <ChartCanvas box={H_BOX} make={makeH} />
      <ChartCanvas box={I_BOX} make={makeI} />
      <PanelF />
      {panelLetters.map(([t, cx, cy]) => (
        <div
          key={t}
          style={{
            position: 'absolute', left: cx - 30, top: cy - 19.5, width: 60, textAlign: 'center',
            fontFamily: FONT, fontWeight: 700, fontSize: 40, lineHeight: '40px', color: '#1a1a1a',
          }}
        >
          {t}
        </div>
      ))}
    </div>
  );
}
